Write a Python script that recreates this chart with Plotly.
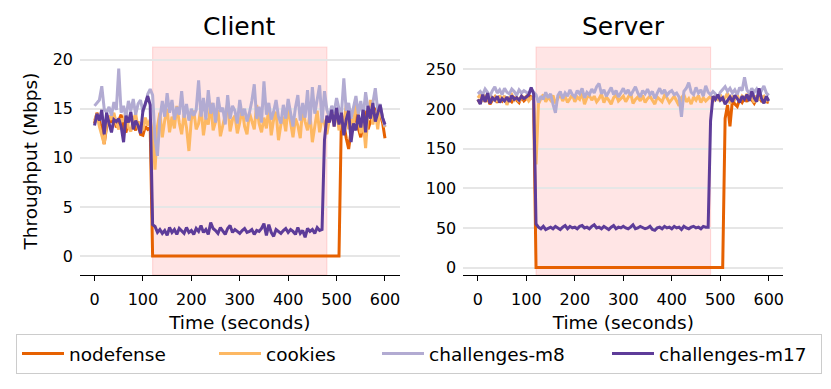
import plotly.graph_objects as go

# sample times (seconds), one point every 5 s
time_s = list(range(0, 605, 5))

series_names = ["nodefense", "cookies", "challenges-m8", "challenges-m17"]
series_colors = ["#e66101", "#fdb863", "#b2abd2", "#5e3c99"]

# client throughput (Mbps)
client_nodefense = [
    13.5, 14.6, 13.8, 12.9, 11.4, 13.2, 14.0, 13.6, 14.2, 13.1,
    13.8, 14.4, 13.0, 12.6, 13.9, 14.1, 13.3, 12.8, 13.7, 12.4,
    12.3, 13.2, 12.9, 13.1, 0, 0, 0, 0, 0, 0,
    0, 0, 0, 0, 0, 0, 0, 0, 0, 0,
    0, 0, 0, 0, 0, 0, 0, 0, 0, 0,
    0, 0, 0, 0, 0, 0, 0, 0, 0, 0,
    0, 0, 0, 0, 0, 0, 0, 0, 0, 0,
    0, 0, 0, 0, 0, 0, 0, 0, 0, 0,
    0, 0, 0, 0, 0, 0, 0, 0, 0, 0,
    0, 0, 0, 0, 0, 0, 0, 0, 0, 0,
    0, 0, 14.2, 13.5, 12.0, 10.9, 12.8, 13.4, 14.5, 13.0,
    12.1, 13.6, 14.8, 12.9, 13.7, 14.2, 15.1, 13.8, 14.4, 13.6,
    12.0,
]
client_cookies = [
    13.8, 14.5, 13.2, 12.4, 11.4, 13.6, 14.3, 13.9, 14.6, 13.5,
    12.9, 14.0, 13.7, 14.8, 13.1, 12.7, 13.9, 14.5, 13.0, 13.6,
    12.8, 14.1, 13.3, 13.9, 12.5, 8.8, 13.2, 14.6, 12.1, 13.8,
    15.0, 12.6, 14.2, 13.0, 15.3, 13.6, 12.4, 14.5, 13.1, 10.7,
    13.9, 14.8, 12.9, 13.5, 15.2, 12.3, 14.0, 13.4, 15.6, 12.8,
    13.7, 14.9, 12.2, 13.3, 14.4, 15.5, 12.7, 13.9, 14.3, 12.5,
    13.6, 15.0, 13.2, 12.4, 14.6, 13.8, 12.9, 15.4, 13.5, 12.6,
    14.1, 13.0, 15.2, 12.3, 13.9, 14.7, 11.8, 13.4, 14.2, 12.7,
    15.3, 13.6, 12.1, 14.0, 13.3, 12.0, 15.1, 13.7, 12.8, 14.5,
    11.6, 13.2, 14.8, 12.6, 14.1, 13.5, 12.4, 13.9, 14.6, 13.2,
    15.0, 12.8, 14.3, 13.6, 15.4, 12.9, 14.0, 13.3, 15.8, 14.2,
    12.5, 13.8, 11.0, 14.6, 15.9, 13.4, 14.8, 12.9, 15.2, 14.0,
    13.1,
]
client_m8 = [
    15.3, 15.6, 15.9, 17.3, 15.0, 14.6, 15.2, 14.3, 15.7, 14.9,
    19.1, 14.6, 15.3, 14.1, 15.8, 14.8, 16.0, 14.4, 15.5, 15.9,
    14.7, 15.4, 16.5, 17.0, 16.4, 12.0, 10.2, 14.0, 15.8, 14.2,
    16.6, 14.6, 15.9, 13.9, 15.2, 14.4, 16.8, 14.1, 15.5, 13.8,
    15.0, 14.3, 14.9, 17.9, 14.2, 16.1, 13.9, 16.9, 14.5, 15.6,
    13.6, 16.2, 14.7, 15.1, 13.4, 16.4, 14.0, 15.3, 14.8, 13.5,
    15.9, 14.3, 15.0, 13.7, 14.6, 15.8, 17.5, 14.0, 15.2, 13.6,
    17.8, 14.4, 15.6, 13.9, 14.7, 15.9, 14.2, 13.5, 15.4, 14.0,
    16.0, 14.6, 13.2, 15.1, 16.4, 13.8, 15.6, 14.1, 16.9, 13.4,
    17.2, 14.5, 16.1, 17.4, 13.6, 16.8, 14.9, 14.2, 15.3, 14.6,
    16.1, 15.0, 14.4, 18.1, 14.8, 15.6, 14.0, 15.2, 16.3, 14.5,
    15.8, 14.2, 16.7, 15.0, 14.3, 15.6, 17.1, 14.8, 15.5, 14.1,
    13.2,
]
client_m17 = [
    13.3, 14.5, 13.8, 14.9, 12.4, 14.6, 13.5, 12.6, 13.9, 13.7,
    14.0, 13.2, 11.6, 14.3, 13.6, 14.7, 12.9, 13.8, 13.3, 12.5,
    14.8, 15.5, 16.3, 15.4, 3.2, 3.0, 2.4, 2.7, 2.3, 2.6,
    2.1, 2.9, 2.4, 2.7, 2.2, 2.8, 2.5, 2.3, 2.9, 2.4,
    2.6, 2.2, 2.8, 2.5, 3.1, 2.4, 2.7, 2.2, 3.4, 2.8,
    2.6, 2.3, 2.9, 2.5, 2.2, 2.8, 3.1, 2.4, 2.7, 2.5,
    2.3, 2.6, 2.8, 2.4, 2.5, 2.7, 2.2, 2.6, 2.5, 2.8,
    3.3, 2.1, 3.2, 2.4, 2.0, 2.7, 2.5, 2.3, 2.6, 2.8,
    2.4, 2.7, 2.5, 2.2, 2.9, 2.3, 2.6, 1.9, 2.8, 2.5,
    2.7, 2.3, 2.9, 2.6, 2.7, 11.8, 14.3, 13.6, 14.9, 13.2,
    15.1, 13.4, 14.6, 12.3, 13.9, 14.8, 11.6, 13.5, 12.8, 14.4,
    13.1, 14.9, 12.6, 15.3, 14.0, 15.6, 13.7, 14.5, 15.4, 14.1,
    13.4,
]

# server throughput (Mbps)
server_nodefense = [
    212, 207, 216, 209, 214, 206, 211, 215, 208, 213,
    210, 216, 207, 212, 209, 214, 211, 208, 215, 210,
    213, 217, 215, 212, 0, 0, 0, 0, 0, 0,
    0, 0, 0, 0, 0, 0, 0, 0, 0, 0,
    0, 0, 0, 0, 0, 0, 0, 0, 0, 0,
    0, 0, 0, 0, 0, 0, 0, 0, 0, 0,
    0, 0, 0, 0, 0, 0, 0, 0, 0, 0,
    0, 0, 0, 0, 0, 0, 0, 0, 0, 0,
    0, 0, 0, 0, 0, 0, 0, 0, 0, 0,
    0, 0, 0, 0, 0, 0, 0, 0, 0, 0,
    0, 0, 188, 205, 178, 211, 206, 203, 212, 208,
    214, 209, 216, 211, 207, 213, 215, 210, 212, 209,
    208,
]
server_cookies = [
    214, 218, 210, 216, 213, 219, 211, 215, 209, 217,
    212, 216, 205, 214, 218, 211, 215, 209, 217, 213,
    216, 210, 214, 212, 130, 206, 213, 218, 209, 215,
    211, 217, 207, 214, 219, 210, 216, 208, 213, 218,
    209, 215, 212, 220, 206, 214, 217, 211, 216, 209,
    213, 219, 208, 215, 211, 206, 214, 218, 210, 213,
    216, 209, 214, 220, 207, 212, 215, 210, 217, 208,
    213, 216, 211, 206, 215, 212, 209, 217, 214, 208,
    212, 216, 210, 204, 214, 218, 209, 213, 206, 215,
    211, 217, 208, 214, 210, 213, 216, 209, 215, 212,
    218, 210, 214, 220, 207, 215, 212, 218, 209, 216,
    213, 219, 211, 215, 208, 217, 212, 214, 216, 210,
    211,
]
server_m8 = [
    219, 222, 218, 225, 221, 216, 223, 228, 220, 224,
    218, 226, 221, 219, 225, 222, 217, 224, 220, 223,
    221, 219, 225, 222, 218, 208, 216, 212, 221, 214,
    219, 206, 195, 217, 222, 213, 220, 216, 224, 218,
    215, 223, 219, 226, 214, 221, 218, 225, 220, 228,
    232, 219, 224, 216, 222, 227, 218, 223, 215, 221,
    226, 219, 224, 217, 222, 228, 220, 215, 223, 219,
    225, 218, 222, 213, 220, 226, 219, 224, 217, 221,
    223, 218, 220, 215, 190, 222, 226, 233, 221, 218,
    227, 220, 224, 216, 229, 221, 218, 222, 219, 214,
    221, 225, 228, 222, 226, 220, 224, 218, 227, 223,
    240, 224, 219, 226, 221, 225, 218, 223, 229, 220,
    217,
]
server_m17 = [
    212, 206, 218, 209, 220, 207, 214, 211, 216, 208,
    213, 210, 215, 209, 217, 212, 214, 211, 216, 213,
    215, 218, 227, 219, 55, 51, 49, 52, 48, 50,
    51, 49, 52, 50, 48, 51, 53, 49, 52, 50,
    51, 49, 52, 53, 50, 51, 49, 52, 54, 50,
    51, 49, 52, 50, 48, 51, 53, 49, 51, 50,
    52, 50, 49, 51, 54, 49, 50, 52, 51, 49,
    50, 52, 48, 47, 50, 51, 49, 52, 50, 51,
    49, 52, 50, 51, 48, 52, 50, 49, 51, 52,
    50, 51, 49, 52, 51, 51, 185, 216, 212, 218,
    211, 214, 206, 210, 215, 209, 217, 213, 208, 216,
    212, 218, 210, 222, 214, 209, 226, 213, 207, 216,
    210,
]

attack_start, attack_end = 120, 480
x_ticks = [0, 100, 200, 300, 400, 500, 600]
client_y_ticks = [0, 5, 10, 15, 20]
server_y_ticks = [0, 50, 100, 150, 200, 250]

# the page body adds an 8px margin, so the figure is 8px smaller and
# every position below is measured in page pixels minus 8
W, H = 823, 381
OFF = 8
FONT = "DejaVu Sans"
# legend entry widths (px) so the entries spread like the original
legend_widths = [140, 106, 173, 157]


def px_x(p):
    return (p - OFF) / W


def px_y(p):
    return 1 - (p - OFF) / H


fig = go.Figure()

client_data = [client_nodefense, client_cookies, client_m8, client_m17]
server_data = [server_nodefense, server_cookies, server_m8, server_m17]

for name, color, vals, lw in zip(series_names, series_colors, client_data, legend_widths):
    fig.add_trace(go.Scatter(x=time_s, y=vals, name=name, mode="lines",
                             line=dict(color=color, width=3), legendwidth=lw,
                             xaxis="x", yaxis="y"))
for name, color, vals in zip(series_names, series_colors, server_data):
    fig.add_trace(go.Scatter(x=time_s, y=vals, name=name, mode="lines",
                             line=dict(color=color, width=3), showlegend=False,
                             xaxis="x2", yaxis="y2"))

# attack window shading
for xr, yr in [("x", "y domain"), ("x2", "y2 domain")]:
    fig.add_shape(type="rect", xref=xr, yref=yr, x0=attack_start, x1=attack_end,
                  y0=0, y1=1, fillcolor="rgba(255,0,0,0.1)",
                  line=dict(color="rgba(255,0,0,0.12)", width=1.2), layer="below")

y_dom = [px_y(275), px_y(47)]
xa = dict(range=[-30, 630], tickvals=x_ticks, ticks="outside", ticklen=5,
          tickwidth=1.2, tickcolor="black", showline=True, linecolor="black",
          linewidth=1.2, showgrid=False, zeroline=False, automargin=False,
          ticklabelstandoff=5, tickfont=dict(size=16, color="black"),
          title=dict(text="Time (seconds)", font=dict(size=18.5, color="black"),
                     standoff=7))
ya = dict(showgrid=True, gridcolor="#e6e6e6", gridwidth=1.6, ticks="",
          showline=False, zeroline=False, automargin=False, ticklabelstandoff=6,
          tickfont=dict(size=16, color="black"), domain=y_dom)

cl_dom = [px_x(80), px_x(399.5)]
sv_dom = [px_x(463.3), px_x(783.3)]

fig.update_layout(
    width=W, height=H,
    margin=dict(l=0, r=0, t=0, b=0, autoexpand=False),
    paper_bgcolor="white", plot_bgcolor="white",
    font=dict(family=FONT, color="black"),
    xaxis=dict(xa, domain=cl_dom, anchor="y"),
    xaxis2=dict(xa, domain=sv_dom, anchor="y2"),
    yaxis=dict(ya, range=[-1.94, 21.3], tickvals=client_y_ticks, anchor="x",
               title=dict(text="Throughput (Mbps)",
                          font=dict(size=18.5, color="black"), standoff=10)),
    yaxis2=dict(ya, range=[-9.3, 278], tickvals=server_y_ticks, anchor="x2"),
    legend=dict(orientation="h", x=px_x(16), xanchor="left", y=px_y(334),
                yanchor="top", bordercolor="#cccccc", borderwidth=1,
                font=dict(size=18.5, color="black"), itemwidth=42,
                traceorder="normal"),
    annotations=[
        dict(text="Client", x=sum(cl_dom) / 2, y=px_y(27), xref="paper",
             yref="paper", showarrow=False, font=dict(size=25, color="black"),
             xanchor="center", yanchor="middle"),
        dict(text="Server", x=sum(sv_dom) / 2, y=px_y(27), xref="paper",
             yref="paper", showarrow=False, font=dict(size=25, color="black"),
             xanchor="center", yanchor="middle"),
    ],
)

fig.write_html("out.html")
